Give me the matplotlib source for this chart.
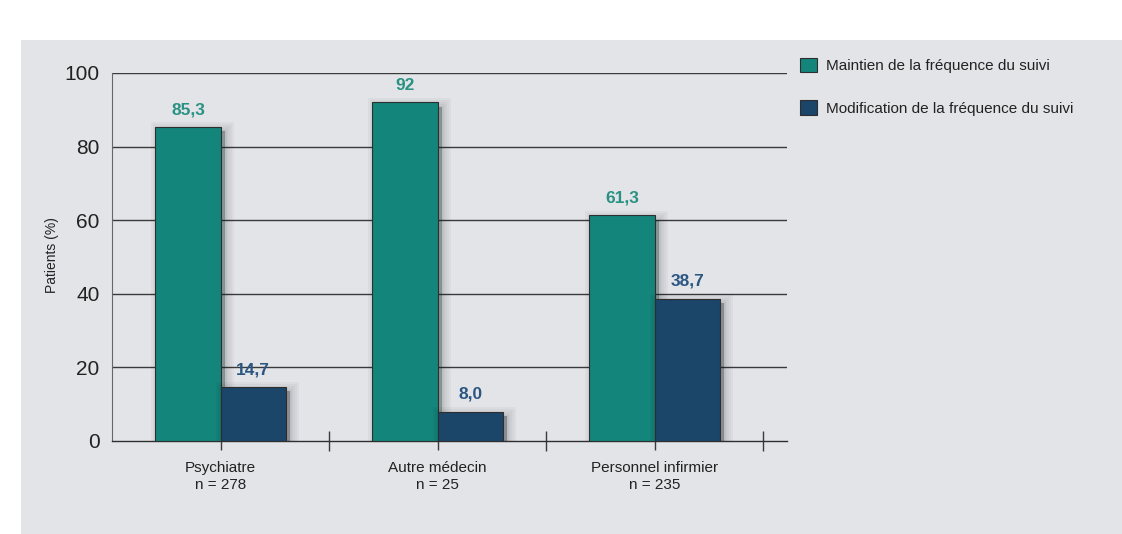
import matplotlib.pyplot as plt
import matplotlib.patheffects as pe
from matplotlib.patches import Rectangle
from matplotlib.ticker import FixedLocator

categories = ['Psychiatre\nn = 278', 'Autre médecin\nn = 25', 'Personnel infirmier\nn = 235']
maintien = [85.3, 92.0, 61.3]
modification = [14.7, 8.0, 38.7]
maintien_txt = ['85,3', '92', '61,3']
modification_txt = ['14,7', '8,0', '38,7']
series_names = ['Maintien de la fréquence du suivi', 'Modification de la fréquence du suivi']

teal = '#13857a'
navy = '#1c456a'
teal_txt = '#2a9283'
navy_txt = '#2b5682'
panel = '#e3e4e8'

plt.rcParams['font.family'] = ['Liberation Sans', 'DejaVu Sans']

fig = plt.figure(figsize=(11.22, 5.34), dpi=100)
fig.patch.set_facecolor('white')
fig.patches.append(Rectangle((21 / 1122, 0), 1, 494 / 534, transform=fig.transFigure,
                             facecolor=panel, edgecolor='none', zorder=-10))

ax = fig.add_axes([112 / 1122, 93 / 534, 675 / 1122, 368 / 534])
ax.set_facecolor('none')

# soft drop shadow under each bar
shadow = [pe.Stroke(linewidth=lw, foreground='black', alpha=0.03, offset=(3, -3))
          for lw in (13, 10, 7, 4, 2)]
shadow += [pe.SimplePatchShadow(offset=(3, -3), shadow_rgbFace='black', alpha=0.2), pe.Normal()]

w = 0.30
x = list(range(len(categories)))
b1 = ax.bar([i - w / 2 for i in x], maintien, w, color=teal, edgecolor='#2e2e2e',
            linewidth=0.8, zorder=3, label=series_names[0])
b2 = ax.bar([i + w / 2 for i in x], modification, w, color=navy, edgecolor='#2e2e2e',
            linewidth=0.8, zorder=3, label=series_names[1])
for bars in (b1, b2):
    for r in bars:
        r.set_path_effects(shadow)

for i in x:
    ax.annotate(maintien_txt[i], (i - w / 2, maintien[i]), xytext=(0, 7), textcoords='offset points',
                ha='center', va='bottom', color=teal_txt, fontsize=12.5, fontweight='bold', zorder=5)
    ax.annotate(modification_txt[i], (i + w / 2, modification[i]), xytext=(0, 7), textcoords='offset points',
                ha='center', va='bottom', color=navy_txt, fontsize=12.5, fontweight='bold', zorder=5)

ax.set_xlim(-0.5, 2.61)
ax.set_ylim(0, 100)

for yv in (20, 40, 60, 80, 100):
    ax.axhline(yv, color='#3a3a3a', linewidth=1.0, zorder=1)

ax.set_yticks([0, 20, 40, 60, 80, 100])
ax.tick_params(axis='y', length=0, pad=9, labelsize=15, labelcolor='#222222')

ax.set_xticks(x)
ax.set_xticklabels(categories, fontsize=11, color='#222222', linespacing=1.3)
ax.tick_params(axis='x', which='major', direction='out', length=6.5, width=1, color='#3a3a3a', pad=8)
ax.xaxis.set_minor_locator(FixedLocator([0.5, 1.5, 2.5]))
ax.tick_params(axis='x', which='minor', direction='inout', length=14, width=1, color='#3a3a3a')

for s in ('top', 'right'):
    ax.spines[s].set_visible(False)
ax.spines['left'].set_color('#666666')
ax.spines['bottom'].set_color('#2e2e2e')
ax.spines['bottom'].set_linewidth(1.0)

fig.text(52 / 1122, 1 - 255 / 534, 'Patients (%)', rotation=90, ha='center', va='center',
         fontsize=10, color='#222222')

leg = fig.legend(handles=[b1, b2], labels=series_names, loc='upper left',
                 bbox_to_anchor=(786 / 1122, 1 - 44 / 534), frameon=False, fontsize=11,
                 handlelength=1.1, handleheight=1.1, handletextpad=0.6, labelspacing=1.75,
                 labelcolor='#222222')
for h in leg.legend_handles:
    h.set_path_effects([pe.Normal()])

fig.savefig('out.png', dpi=100)
